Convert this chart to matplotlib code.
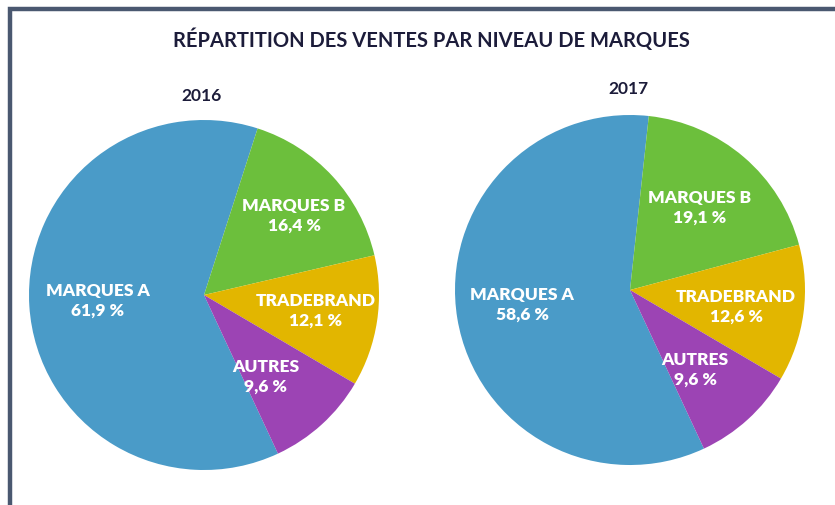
import matplotlib
matplotlib.use("Agg")
import matplotlib.pyplot as plt
from matplotlib.lines import Line2D

# --- data ---------------------------------------------------------------
title = "RÉPARTITION DES VENTES PAR NIVEAU DE MARQUES"
years = ["2016", "2017"]
categories = ["MARQUES A", "MARQUES B", "TRADEBRAND", "AUTRES"]
shares_2016 = [61.9, 16.4, 12.1, 9.6]
shares_2017 = [58.6, 19.1, 12.6, 9.6]

colors = ["#4a9bc8", "#6cbf3c", "#e2b600", "#9c44b4"]
plt.rcParams["font.family"] = ["Lato", "DejaVu Sans"]

# layout in pixel space (x right, y down)
W, H = 835, 505
centers = [(204, 295), (630, 290)]
radius = 175
year_pos = [(202, 96), (628, 89)]
# label offsets from pie center (dx, dy) for each category
label_off = [
    [(-106, 6), (90, -79), (112, 16), (62, 82)],
    [(-108, 15), (70, -82), (106, 17), (65, 80)],
]


def fmt(v):
    return f"{v:.1f}".replace(".", ",") + " %"


fig = plt.figure(figsize=(W / 100, H / 100), dpi=100)
ax = fig.add_axes([0, 0, 1, 1])
ax.set_xlim(0, W)
ax.set_ylim(H, 0)
ax.set_aspect("equal")
ax.axis("off")

# frame (left + top only)
ax.add_line(Line2D([10, 10, W], [H, 9, 9], color="#4a5870", lw=3.2,
                   solid_joinstyle="miter"))

ax.text(431, 40, title, ha="center", va="center", fontsize=14.5,
        fontweight="bold", color="#1c1c3a")

for i, vals in enumerate([shares_2016, shares_2017]):
    cx, cy = centers[i]
    # y axis is inverted, so counterclock=True draws clockwise on screen
    ax.pie(vals, colors=colors, center=(cx, cy), radius=radius,
           startangle=65, counterclock=True, frame=True,
           wedgeprops=dict(linewidth=0))
    ax.text(year_pos[i][0], year_pos[i][1], years[i], ha="center",
            va="center", fontsize=12.5, fontweight="bold", color="#1c1c3a")
    for j, cat in enumerate(categories):
        dx, dy = label_off[i][j]
        ax.text(cx + dx, cy + dy, f"{cat}\n{fmt(vals[j])}", ha="center",
                va="center", fontsize=12.5, fontweight="heavy", color="white",
                linespacing=1.25)

ax.set_xlim(0, W)
ax.set_ylim(H, 0)
ax.axis("off")
fig.savefig("out.png", dpi=100)
